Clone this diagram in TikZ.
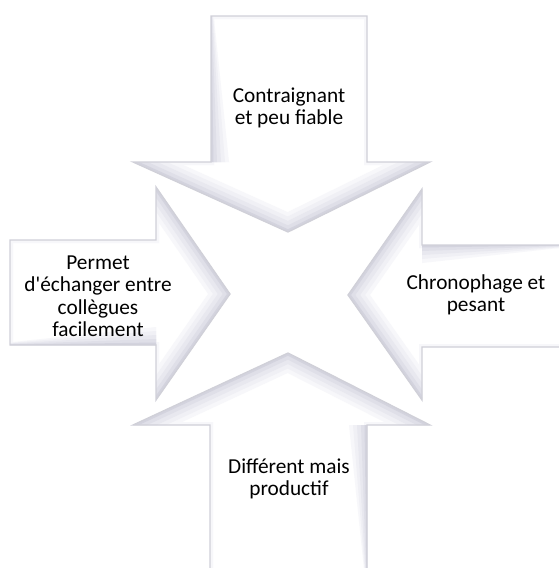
\documentclass[tikz,border=0pt]{standalone}
\usepackage{fontspec}
\setmainfont{Carlito}
\newfontfamily\plainq{Carlito}[Ligatures=TeXOff]
\usetikzlibrary{calc}
\definecolor{edgec}{HTML}{D0D0D8}
\definecolor{bA}{HTML}{F7F7FA}
\definecolor{bB}{HTML}{F0F0F5}
\definecolor{bC}{HTML}{E8E8EF}
\definecolor{bD}{HTML}{DFDFE8}
\definecolor{bE}{HTML}{D3D3DE}
\newcommand\headbands[1]{%
  \foreach \w/\c in {36/bA,28/bB,20/bC,12/bD,5/bE}{\draw[line width=\w pt,\c,line join=miter] #1;}}
\newcommand\shaftbevel[4]{% A, B, dx, dy
  \foreach \k/\c in {18/bA,14/bB,10/bC,6/bD,2.5/bE}{%
    \fill[\c] #1 -- #2 -- ++(\k*#3,\k*#4) -- ($#1+(0.15*\k*#3,0.15*\k*#4)$) -- cycle;}}
\newcommand\arrowbody[1]{%
  \fill[white] #1;
  \draw[line width=6pt,bA] #1;}
\tikzset{
  outline/.style={draw=edgec,line width=1.3pt,line join=miter},
  lbl/.style={align=center,font=\fontsize{21.3}{22.5}\selectfont,text=black,inner sep=0pt}
}
\begin{document}
\begin{tikzpicture}[x=1pt,y=-1pt]
\useasboundingbox (0,0) rectangle (558,568);
% top arrow (points down)
\begin{scope}
  \clip (211,16) -- (367,16) -- (367,162) -- (430,162) -- (288,232) -- (133,162) -- (211,162) -- cycle;
  \arrowbody{(211,16) -- (367,16) -- (367,162) -- (430,162) -- (288,232) -- (133,162) -- (211,162) -- cycle}
  \shaftbevel{(211,16)}{(211,162)}{1}{0}
  \headbands{(133,162) -- (288,232) -- (430,162)}
\end{scope}
\draw[outline] (211,16) -- (367,16) -- (367,162) -- (430,162) -- (288,232) -- (133,162) -- (211,162) -- cycle;
% left arrow (points right)
\begin{scope}
  \clip (10,240) -- (156,240) -- (156,187) -- (230,294) -- (156,400) -- (156,345) -- (10,345) -- cycle;
  \arrowbody{(10,240) -- (156,240) -- (156,187) -- (230,294) -- (156,400) -- (156,345) -- (10,345) -- cycle}
  \shaftbevel{(10,345)}{(156,345)}{0}{-1}
  \headbands{(156,187) -- (230,294) -- (156,400)}
\end{scope}
\draw[outline] (10,240) -- (156,240) -- (156,187) -- (230,294) -- (156,400) -- (156,345) -- (10,345) -- cycle;
% right arrow (points left)
\begin{scope}
  \clip (562,245) -- (422,245) -- (422,189) -- (348,295) -- (422,400) -- (422,347) -- (562,347) -- cycle;
  \arrowbody{(562,245) -- (422,245) -- (422,189) -- (348,295) -- (422,400) -- (422,347) -- (562,347) -- cycle}
  \shaftbevel{(562,245)}{(422,245)}{0}{1}
  \headbands{(422,189) -- (348,295) -- (422,400)}
\end{scope}
\draw[outline] (562,245) -- (422,245) -- (422,189) -- (348,295) -- (422,400) -- (422,347) -- (562,347) -- cycle;
% bottom arrow (points up)
\begin{scope}
  \clip (210,572) -- (210,425) -- (133,425) -- (288,353) -- (430,425) -- (367,425) -- (367,572) -- cycle;
  \arrowbody{(210,572) -- (210,425) -- (133,425) -- (288,353) -- (430,425) -- (367,425) -- (367,572) -- cycle}
  \shaftbevel{(367,572)}{(367,425)}{-1}{0}
  \headbands{(133,425) -- (288,353) -- (430,425)}
\end{scope}
\draw[outline] (210,572) -- (210,425) -- (133,425) -- (288,353) -- (430,425) -- (367,425) -- (367,572) -- cycle;
% labels
\node[lbl] (top) at (289,108) {Contraignant\\et peu fiable};
\node[lbl] (left) at (98,296) {Permet\\d{\plainq'}échanger entre\\collègues\\facilement};
\node[lbl] (right) at (476,295) {Chronophage et\\pesant};
\node[lbl] (bottom) at (289,479) {Différent mais\\productif};
\end{tikzpicture}
\end{document}
